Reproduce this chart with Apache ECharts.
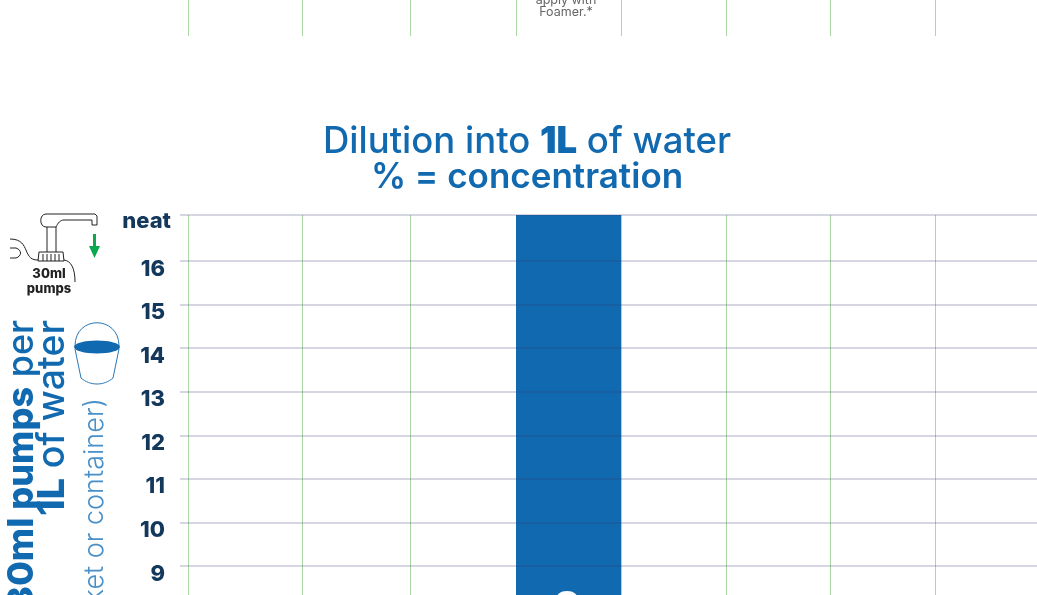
<!DOCTYPE html>
<html><head><meta charset="utf-8">
<style>html,body{margin:0;padding:0;background:#fff;overflow:hidden}#c{width:1037px;height:595px}</style>
<script src="https://cdn.jsdelivr.net/npm/echarts@6/dist/echarts.min.js"></script>
</head><body><div id="c"></div>
<script>
const yTickValues=[9,10,11,12,13,14,15,16,17.056];
const yTickLabels=['9','10','11','12','13','14','15','16','neat'];
const yMin=8.334;
const columnEdges=[0,114,222,328,433,538,642,747];
const barFrom=[328];
const barTo=[433];
const barTop=[17.056];
const barLabel=['8'];
const titleLines=['Dilution into ','1L',' of water','% = concentration'];
const BLUE='#1169b0',NAVY='#14375c',GREEN='#aad9a4',LINE='rgba(50,50,110,0.27)';
const xAxisBase={type:'value',min:0,max:849,axisLine:{show:false},axisLabel:{show:false},
  axisTick:{show:false,customValues:columnEdges},splitLine:{show:true,lineStyle:{color:GREEN,width:1}}};
const chart=echarts.init(document.getElementById('c'),null,{renderer:'canvas'});
const icon='#222';
const F='Inter';
const poly=(points,stroke=icon)=>({type:'polyline',shape:{points},style:{fill:null,stroke,lineWidth:1}});
const bez=(a,c1,c2,b,stroke=icon)=>({type:'bezierCurve',shape:{x1:a[0],y1:a[1],cpx1:c1[0],cpy1:c1[1],cpx2:c2[0],cpy2:c2[1],x2:b[0],y2:b[1]},style:{fill:null,stroke,lineWidth:1}});
const BK='#2a78b8';
chart.setOption({
  animation:false,backgroundColor:'#fff',
  title:{text:`{r|${titleLines[0]}}{b|${titleLines[1]}}{r|${titleLines[2]}}\n{m|${titleLines[3]}}`,left:522,top:120,textAlign:'center',
    textStyle:{rich:{
      r:{fontFamily:F,fontWeight:500,fontSize:36.5,color:BLUE,lineHeight:35},
      b:{fontFamily:F,fontWeight:900,fontSize:36.5,color:BLUE,lineHeight:35},
      m:{fontFamily:F,fontWeight:600,fontSize:35,color:BLUE,lineHeight:35}}}},
  grid:[{left:188,right:0,top:-4,height:40},{left:188,right:0,top:215,height:380}],
  xAxis:[Object.assign({gridIndex:0},xAxisBase),Object.assign({gridIndex:1},xAxisBase)],
  yAxis:[
    {gridIndex:0,type:'value',min:0,max:1,show:false},
    {gridIndex:1,type:'value',z:5,min:yMin,max:17.056,
      axisLine:{show:false},
      axisTick:{show:true,length:8,customValues:yTickValues,lineStyle:{color:LINE,width:1.5}},
      splitLine:{show:true,lineStyle:{color:LINE,width:1.5}},
      axisLabel:{show:true,customValues:yTickValues,margin:17,
        formatter:v=>{const i=yTickValues.indexOf(v);const s=yTickLabels[i];return s==='neat'?`{n|${s}}`:`{d|${s}}`;},
        rich:{n:{fontFamily:F,fontWeight:800,fontSize:22,color:NAVY,padding:[12,0,0,0]},
              d:{fontFamily:F,fontWeight:800,fontSize:22,color:NAVY,padding:[16,6,0,0]}}}}
  ],
  series:[{type:'custom',xAxisIndex:1,yAxisIndex:1,z:2,clip:true,
    data:barFrom.map((f,i)=>[f,barTo[i],barTop[i]]),
    renderItem:(p,api)=>{
      const a=api.coord([api.value(0),api.value(2)]);
      const b=api.coord([api.value(1),yMin]);
      return {type:'rect',shape:{x:a[0],y:a[1],width:b[0]-a[0],height:b[1]-a[1]},style:{fill:BLUE}};
    }}],
  graphic:[
    {type:'text',style:{x:566,y:0,text:'apply with',align:'center',verticalAlign:'middle',fill:'#666',font:'12.5px '+F}},
    {type:'text',style:{x:566,y:12.5,text:'Foamer.*',align:'center',verticalAlign:'middle',fill:'#666',font:'12.5px '+F}},
    {type:'text',z:10,style:{x:567,y:588,text:barLabel[0],align:'center',verticalAlign:'top',fill:'#fff',font:'800 40px '+F}},
    {type:'text',x:22,y:320,rotation:Math.PI/2,style:{text:'{b|30ml pumps}{r| per}',align:'right',verticalAlign:'middle',
      rich:{b:{fontFamily:F,fontWeight:800,fontSize:36,fill:BLUE},r:{fontFamily:F,fontWeight:500,fontSize:36,fill:BLUE}}}},
    {type:'text',x:53,y:320,rotation:Math.PI/2,style:{text:'{b|1L}{r| of water}',align:'right',verticalAlign:'middle',
      rich:{b:{fontFamily:F,fontWeight:800,fontSize:37.5,fill:BLUE},r:{fontFamily:F,fontWeight:500,fontSize:37.5,fill:BLUE}}}},
    {type:'text',x:95,y:398,rotation:Math.PI/2,style:{text:'(bucket or container)',align:'right',verticalAlign:'middle',fill:'#4a90c8',font:'300 27px '+F}},
    bez([75,346],[75,315],[119,315],[119,346],BK),
    poly([[75,349],[81,378]],BK),poly([[119,349],[113,378]],BK),
    bez([81,378],[90,386],[104,386],[113,378],BK),
    {type:'ellipse',shape:{cx:97,cy:347,rx:23,ry:6.5},style:{fill:BLUE}},
    poly([[46,214],[95,214],[97,216],[97,225],[92,225],[92,220],[64,220]]),
    bez([64,220],[60,220],[58,223],[56,227]),
    poly([[56,227],[46,227]]),
    bez([46,227],[39,227],[39,214],[46,214]),
    poly([[47,227],[47,252]]),poly([[56,227],[56,252]]),
    poly([[39,252],[63,252],[64,261],[38,261],[39,252]]),
    poly([[43,254],[43,261]]),poly([[47,254],[47,261]]),poly([[51,254],[51,261]]),poly([[55,254],[55,261]]),poly([[59,254],[59,261]]),
    bez([10,239],[22,239],[24,246],[26,250]),bez([26,250],[29,258],[32,260],[38,260]),
    bez([64,260],[71,261],[75,268],[75,282]),
    poly([[10,248],[16,248]]),bez([16,248],[22,250],[22,256],[16,258]),poly([[16,258],[10,258]]),
    {type:'polygon',shape:{points:[[93,234],[96,234],[96,246],[100,246],[94.5,258],[89,246],[93,246]]},style:{fill:'#0aa84f'}},
    {type:'text',style:{x:49,y:274,text:'30ml',align:'center',verticalAlign:'middle',fill:icon,font:'800 13px '+F}},
    {type:'text',style:{x:49,y:289,text:'pumps',align:'center',verticalAlign:'middle',fill:icon,font:'800 13px '+F}}
  ]
});
</script></body></html>
